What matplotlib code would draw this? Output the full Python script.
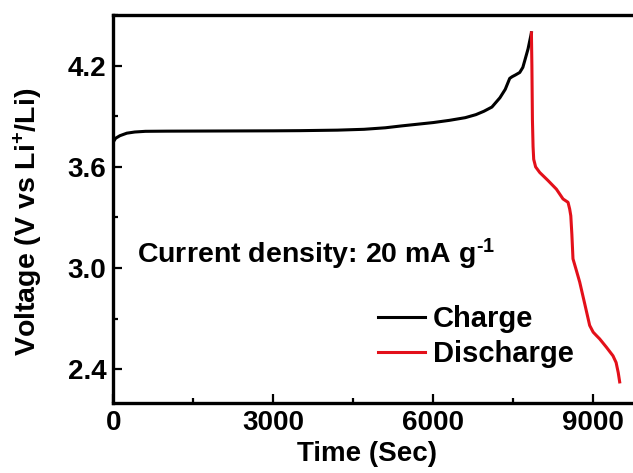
import matplotlib
matplotlib.use("Agg")
import matplotlib.pyplot as plt
from matplotlib.ticker import MultipleLocator, FormatStrFormatter

plt.rcParams['font.family'] = ['Liberation Sans', 'DejaVu Sans']
plt.rcParams['font.weight'] = 'bold'
plt.rcParams['mathtext.fontset'] = 'custom'
plt.rcParams['mathtext.rm'] = 'Liberation Sans:bold'
plt.rcParams['mathtext.bf'] = 'Liberation Sans:bold'
plt.rcParams['mathtext.default'] = 'bf'

# charge branch (time in s, voltage in V)
charge_t = [0, 40, 120, 250, 400, 600, 1000, 2000, 3000, 3500, 4200, 4700,
            5100, 5400, 5700, 6000, 6300, 6600, 6800, 6950, 7100, 7250, 7350,
            7434, 7480, 7540, 7622, 7680, 7716, 7778, 7841]
charge_v = [3.75, 3.77, 3.785, 3.80, 3.807, 3.811, 3.812, 3.813, 3.814, 3.815,
            3.818, 3.823, 3.832, 3.843, 3.853, 3.863, 3.876, 3.892, 3.91, 3.93,
            3.955, 4.01, 4.06, 4.125, 4.135, 4.145, 4.16, 4.19, 4.23, 4.30, 4.395]

# discharge branch
discharge_t = [7841, 7850, 7860, 7872, 7884, 7920, 7997, 8150, 8310, 8434, 8528,
               8559, 8580, 8600, 8621, 8690, 8747, 8840, 8934, 9000, 9060, 9122,
               9250, 9371, 9430, 9470, 9497]
discharge_v = [4.395, 4.2, 3.88, 3.72, 3.645, 3.60, 3.567, 3.52, 3.468, 3.41,
               3.39, 3.35, 3.31, 3.2, 3.055, 2.98, 2.917, 2.79, 2.66, 2.62, 2.60,
               2.58, 2.53, 2.48, 2.44, 2.38, 2.325]

fig = plt.figure(figsize=(6.33, 4.73), dpi=100)
# right spine sits just past the figure edge, so the frame runs off to the right
ax = fig.add_axes([0.1793, 0.148, 0.842, 0.820])

ax.plot(charge_t, charge_v, color='black', lw=2.2, label='Charge')
ax.plot(discharge_t, discharge_v, color='#e3101a', lw=2.2, label='Discharge')

ax.set_xlim(0, 10000)
ax.set_ylim(2.2, 4.5)
ax.xaxis.set_major_locator(MultipleLocator(3000))
ax.xaxis.set_minor_locator(MultipleLocator(1500))
ax.yaxis.set_major_locator(MultipleLocator(0.6))
ax.yaxis.set_minor_locator(MultipleLocator(0.3))
ax.yaxis.set_major_formatter(FormatStrFormatter('%.1f'))

for s in ax.spines.values():
    s.set_linewidth(2.4)
ax.tick_params(which='both', direction='in', width=1.6, labelsize=20)
ax.tick_params(which='major', length=6.5)
ax.tick_params(which='minor', length=3.6)
ax.tick_params(axis='x', pad=5)
ax.tick_params(axis='y', pad=5)

ax.set_xlabel('Time (Sec)', fontsize=20, fontweight='bold')
ax.xaxis.set_label_coords(0.4765, -0.098)
ax.set_ylabel('Voltage (V vs Li$^{+}$/Li)', fontsize=20.5, fontweight='bold')
ax.yaxis.set_label_coords(-0.1285, 0.468)

ax.text(0.044, 0.361, 'Current density: 20 mA g$^{\\text{-}1}$',
        transform=ax.transAxes, fontsize=20.5, fontweight='bold',
        va='baseline', ha='left')

ax.legend(loc='upper left', bbox_to_anchor=(0.4965, 0.253), frameon=False,
          fontsize=21, handlelength=1.6, handletextpad=0.28,
          labelspacing=0.24, borderpad=0, borderaxespad=0)

fig.savefig('out.png', dpi=100)
